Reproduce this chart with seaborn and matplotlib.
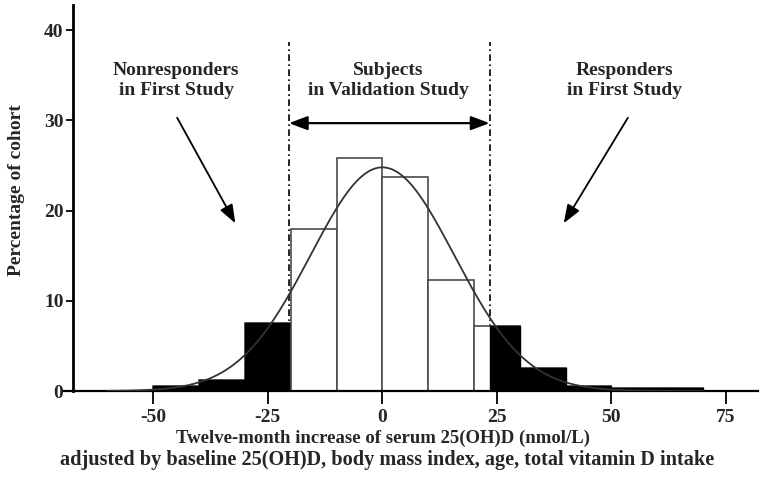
import numpy as np
import matplotlib
matplotlib.use("Agg")
import matplotlib.pyplot as plt
import seaborn as sns

# ---- data ----
bin_edges = [-50, -40, -30, -20, -10, 0, 10, 20, 30, 40, 50, 60, 70]
pct_cohort = [0.5, 1.2, 7.5, 18.0, 25.8, 23.7, 12.3, 7.2, 2.6, 0.5, 0.35, 0.35]
low_cut = -20.4    # nonresponder cut-off (first study)
high_cut = 23.4    # responder cut-off (first study)
fit_mean, fit_sd, fit_peak = 0.0, 15.7, 24.8   # fitted normal curve
x_ticks = [-50, -25, 0, 25, 50, 75]
y_ticks = [0, 10, 20, 30, 40]
group_labels = ["Nonresponders\nin First Study",
                "Subjects\nin Validation Study",
                "Responders\nin First Study"]
xlabel_1 = "Twelve-month increase of serum 25(OH)D (nmol/L)"
xlabel_2 = "adjusted by baseline 25(OH)D, body mass index, age, total vitamin D intake"
ylabel = "Percentage of cohort"

sns.set_theme(style="ticks")
plt.rcParams["font.family"] = ["Liberation Serif", "DejaVu Serif"]
plt.rcParams["font.weight"] = "bold"

fig = plt.figure(figsize=(7.64, 4.84), dpi=100)
ax = fig.add_axes([64 / 764, 93 / 484, 694 / 764, 386 / 484])
ax.spines["left"].set_position(("data", -67.5))

centers = [(a + b) / 2 for a, b in zip(bin_edges[:-1], bin_edges[1:])]

# full histogram (white bars)
sns.histplot(x=centers, weights=pct_cohort, bins=bin_edges, stat="count",
             color="white", edgecolor="#4a4a4a", linewidth=1.2, alpha=1,
             ax=ax, zorder=2)

# black parts outside the cut-offs
lo_edges = [e for e in bin_edges if e < low_cut] + [low_cut]
lo_w = [w for l, w in zip(bin_edges[:-1], pct_cohort) if l < low_cut]
lo_c = [(a + b) / 2 for a, b in zip(lo_edges[:-1], lo_edges[1:])]
hi_edges = [high_cut] + [e for e in bin_edges if e > high_cut]
hi_w = [w for r, w in zip(bin_edges[1:], pct_cohort) if r > high_cut]
hi_c = [(a + b) / 2 for a, b in zip(hi_edges[:-1], hi_edges[1:])]
for c, w, e in [(lo_c, lo_w, lo_edges), (hi_c, hi_w, hi_edges)]:
    sns.histplot(x=c, weights=w, bins=e, stat="count", color="black",
                 edgecolor="black", linewidth=1.0, alpha=1, ax=ax, zorder=2.5)

# fitted normal curve
xs = np.linspace(-60, 70, 400)
ys = fit_peak * np.exp(-0.5 * ((xs - fit_mean) / fit_sd) ** 2)
sns.lineplot(x=xs, y=ys, color="#333333", linewidth=1.3, ax=ax, zorder=3)

# dash-dot cut-off lines
for xc in (low_cut, high_cut):
    ax.plot([xc, xc], [0, 38.7], color="black", linewidth=1.2,
            linestyle=(0, (4, 2, 1, 2)), zorder=1.5)

# double arrow
ax.annotate("", xy=(high_cut, 29.7), xytext=(low_cut, 29.7),
            arrowprops=dict(arrowstyle="<|-|>,head_length=0.8,head_width=0.3",
                            color="black", lw=1.6, shrinkA=0, shrinkB=0,
                            mutation_scale=14))
# diagonal arrows
ax.annotate("", xy=(-32.1, 18.6), xytext=(-44.8, 30.3),
            arrowprops=dict(arrowstyle="-|>,head_length=0.8,head_width=0.3",
                            color="black", lw=1.3, shrinkA=0, shrinkB=0,
                            mutation_scale=14))
ax.annotate("", xy=(39.6, 18.6), xytext=(53.6, 30.3),
            arrowprops=dict(arrowstyle="-|>,head_length=0.8,head_width=0.3",
                            color="black", lw=1.3, shrinkA=0, shrinkB=0,
                            mutation_scale=14))

for xt, lab in zip([-45.0, 1.3, 52.8], group_labels):
    ax.text(xt, 34.4, lab, ha="center", va="center", fontsize=14,
            fontweight="bold", linespacing=1.25)

ax.set_xlim(-69.5, 82)
ax.set_ylim(0, 42.8)
ax.set_xticks(x_ticks)
ax.set_yticks(y_ticks)
ax.set_xticklabels([str(t) for t in x_ticks], fontsize=14, fontweight="bold")
ax.set_yticklabels([str(t) for t in y_ticks], fontsize=14, fontweight="bold")
ax.tick_params(axis="x", length=9, width=1.3, pad=4, color="black")
ax.tick_params(axis="y", length=5, width=1.3, pad=2, color="black")
ax.spines["left"].set_linewidth(2.0)
ax.spines["bottom"].set_linewidth(1.6)
for s in ("left", "bottom"):
    ax.spines[s].set_color("black")
ax.spines["top"].set_visible(False)
ax.spines["right"].set_visible(False)
ax.set_xlabel("")
ax.set_ylabel("")

fig.text(383 / 764, 1 - 438 / 484, xlabel_1, ha="center", va="center",
         fontsize=13.5, fontweight="bold")
fig.text(387 / 764, 1 - 460 / 484, xlabel_2, ha="center", va="center",
         fontsize=14.6, fontweight="bold")
fig.text(17 / 764, 1 - 190 / 484, ylabel, ha="center", va="center",
         rotation=90, fontsize=14, fontweight="bold")

fig.savefig("out.png", dpi=100, facecolor="white")
